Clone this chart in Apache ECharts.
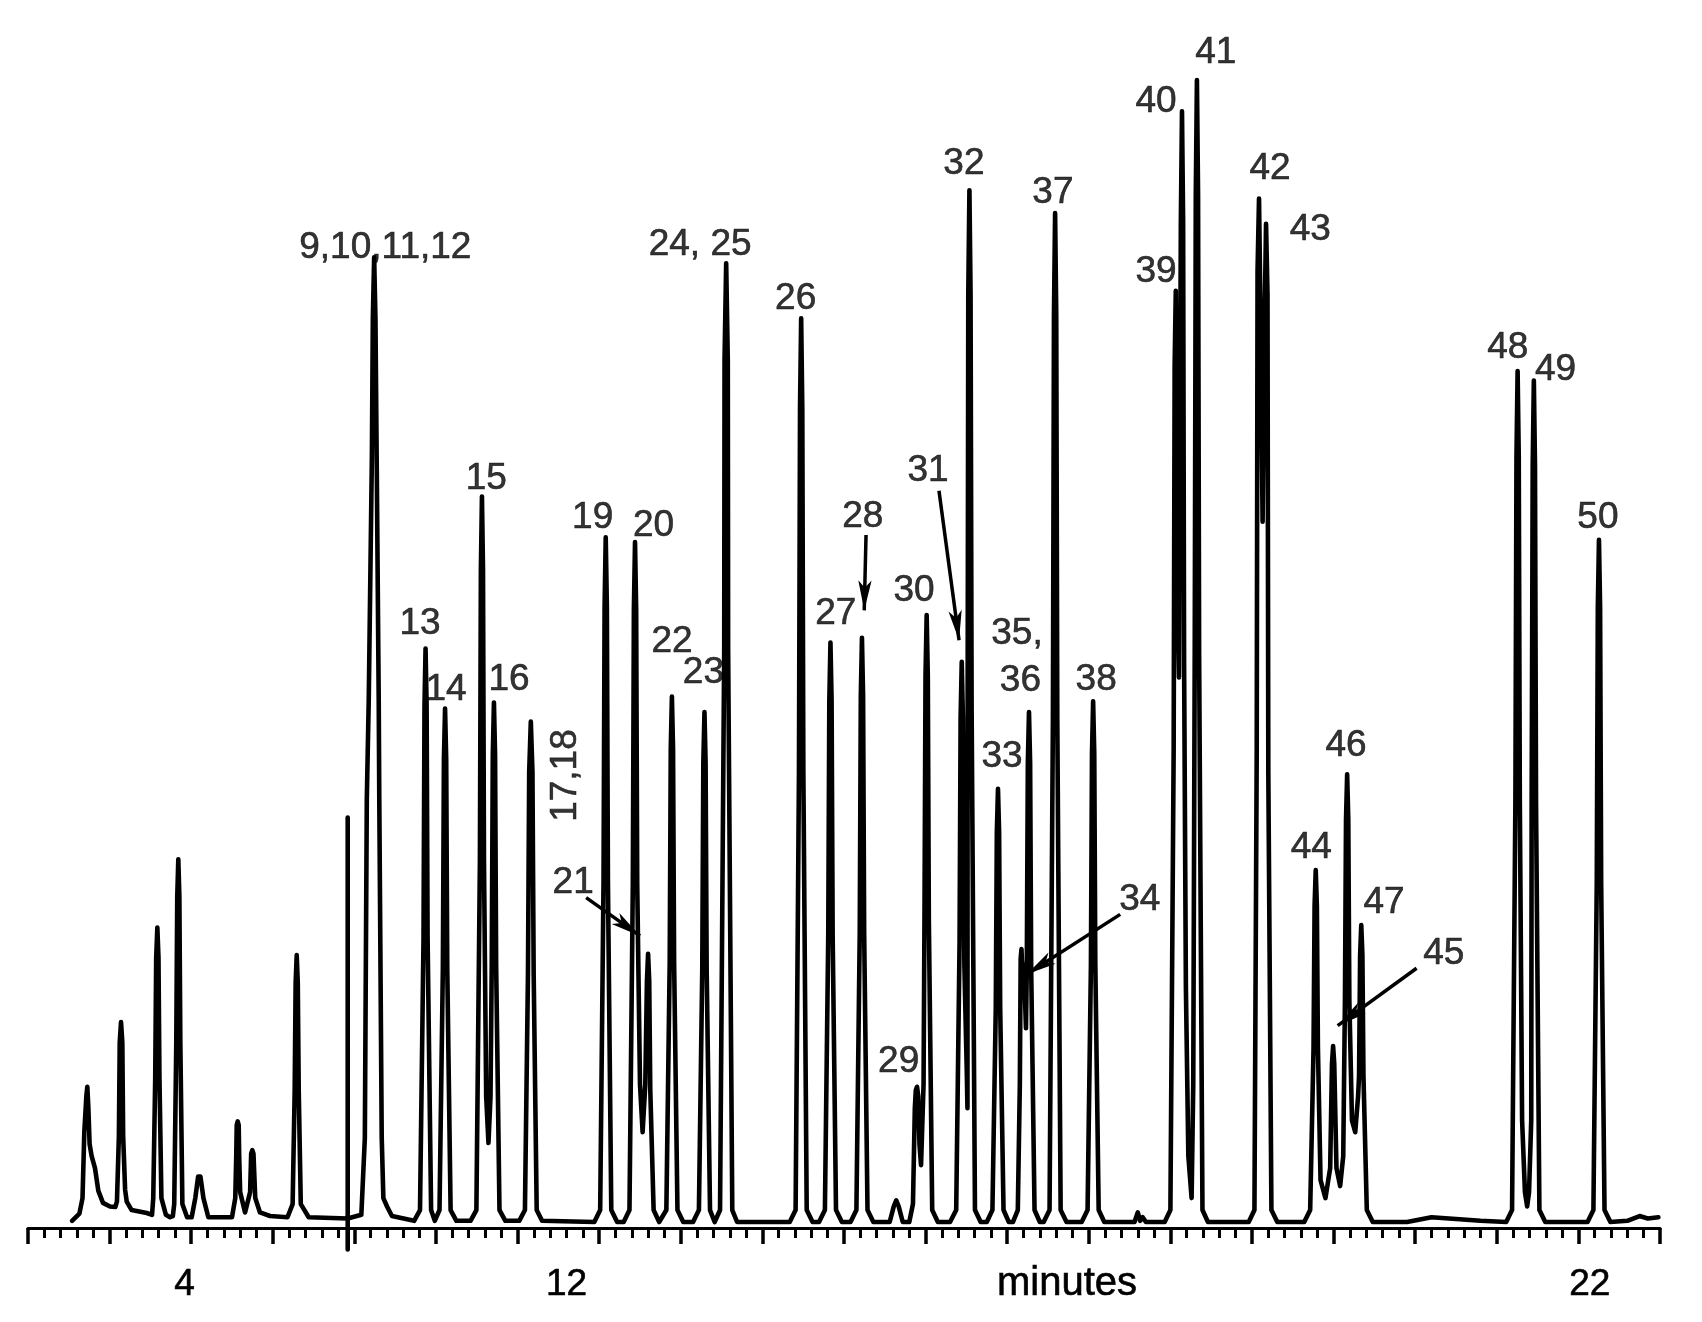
<!DOCTYPE html>
<html>
<head>
<meta charset="utf-8">
<script src="https://cdn.jsdelivr.net/npm/echarts@6/dist/echarts.min.js"></script>
<style>
html,body{margin:0;padding:0;background:#fff;}
#chart{width:1702px;height:1322px;}
</style>
</head>
<body>
<div id="chart"></div>
<script>
// Chromatogram trace: [time (axis units), detector signal]
const trace = [
  [0.54,0.6],[0.63,1.2],[0.668,2.5],[0.69,8.0],[0.715,11],[0.727,11.8],[0.74,10],[0.755,7.0],[0.78,6.0],[0.821,5.0],[0.862,3.1],[0.919,2.1],[1.005,1.8],[1.07,1.75],
  [1.09,2.2],[1.114,7.7],[1.124,15.5],[1.14,17.2],[1.156,15.5],[1.166,7.7],[1.19,3.2],[1.21,2.2],[1.27,1.5],[1.455,1.25],
  [1.52,1.1],[1.535,2.5],[1.559,12.5],[1.571,22.6],[1.585,25.1],[1.599,22.6],[1.611,12.5],[1.635,2.5],[1.69,1.1],[1.74,0.9],
  [1.775,1.0],[1.792,2.0],[1.817,15.4],[1.829,27.7],[1.842,30.8],[1.855,27.7],[1.867,15.4],[1.892,2.0],[1.95,0.9],
  [2.006,0.9],[2.05,2.5],[2.085,4.3],[2.099,4.4],[2.113,4.3],[2.15,2.5],[2.21,0.9],
  [2.50,0.9],[2.54,2.5],[2.552,6],[2.558,8.6],[2.57,8.9],[2.582,8.6],[2.588,6],[2.60,3.0],[2.66,1.3],
  [2.722,3.0],[2.735,6.2],[2.749,6.5],[2.763,6.2],[2.785,2.5],[2.843,1.3],[2.966,1.0],
  [3.18,0.9],[3.243,2.0],[3.268,11.4],[3.28,20.5],[3.293,22.8],[3.306,20.5],[3.318,11.4],[3.343,2.0],[3.44,0.9],
  [3.918,0.8],[3.918,34.3],[3.918,-1.8],[3.918,0.8],
  [4.085,1.1],[4.128,7.5],[4.152,35.8],[4.176,44.2],[4.214,64.3],[4.226,76],[4.242,81.1],[4.258,76],[4.273,64.3],[4.298,44.2],[4.305,35.8],[4.335,7.5],[4.355,2.5],[4.40,1.8],[4.46,1.0],
  [4.732,0.6],[4.804,1.5],[4.847,24.2],[4.859,43.6],[4.872,48.4],[4.885,43.6],[4.897,24.2],[4.94,1.5],[4.985,0.6],
  [4.995,0.6],[5.043,1.5],[5.084,21.7],[5.097,39.1],[5.111,43.4],[5.125,39.1],[5.138,21.7],[5.179,1.5],[5.25,0.6],
  [5.423,0.6],[5.495,1.5],[5.538,30.6],[5.55,55],[5.563,61.1],[5.576,55],[5.588,30.6],[5.615,11],[5.643,7.1],[5.668,11],[5.683,22],[5.696,39.5],[5.710,43.9],[5.724,39.5],[5.737,22],[5.778,1.5],[5.85,0.6],
  [6.02,0.6],[6.09,1.5],[6.127,21.2],[6.142,38.1],[6.162,42.3],[6.182,38.1],[6.197,21.2],[6.234,1.5],[6.30,0.6],
  [6.94,0.5],[7.012,1.5],[7.053,28.9],[7.066,51.9],[7.080,57.7],[7.094,51.9],[7.107,28.9],[7.148,1.5],[7.22,0.5],
  [7.30,0.5],[7.371,1.5],[7.412,28.7],[7.425,51.6],[7.439,57.3],[7.453,51.6],[7.466,28.7],[7.50,12],[7.532,8.0],[7.565,12],[7.585,20.6],[7.599,22.9],[7.613,20.6],[7.626,11.5],[7.667,1.5],[7.735,0.5],
  [7.751,0.5],[7.823,1.5],[7.864,22.2],[7.877,40],[7.891,44.4],[7.905,40],[7.918,22.2],[7.959,1.5],[8.03,0.5],
  [8.15,0.5],[8.222,1.5],[8.263,21.6],[8.276,38.8],[8.290,43.1],[8.304,38.8],[8.317,21.6],[8.358,1.5],[8.415,0.5],
  [8.42,0.5],[8.481,1.5],[8.532,48.4],[8.536,72.5],[8.556,80.6],[8.576,72.5],[8.580,48.4],[8.631,1.5],[8.69,0.5],
  [9.335,0.5],[9.407,1.5],[9.448,38],[9.461,68.4],[9.475,76.0],[9.489,68.4],[9.502,38],[9.543,1.5],[9.615,0.5],
  [9.694,0.5],[9.766,1.5],[9.807,24.5],[9.82,44],[9.834,48.9],[9.848,44],[9.861,24.5],[9.902,1.5],[9.974,0.5],
  [10.08,0.5],[10.152,1.5],[10.193,24.7],[10.206,44.4],[10.22,49.3],[10.234,44.4],[10.247,24.7],[10.288,1.5],[10.36,0.5],
  [10.56,0.5],[10.61,1.8],[10.64,2.3],[10.67,1.8],[10.72,0.5],
  [10.80,0.5],[10.845,2.0],[10.868,10],[10.88,11.5],[10.895,11.8],[10.91,11],[10.925,7],[10.944,5.25],[10.975,12],[10.986,25.6],[10.999,46.1],[11.013,51.2],[11.027,46.1],[11.04,25.6],[11.081,1.5],[11.15,0.5],
  [11.30,0.5],[11.375,1.5],[11.416,23.7],[11.429,42.6],[11.443,47.3],[11.457,42.6],[11.475,22],[11.505,13],[11.513,10.0],[11.515,43.4],[11.523,78],[11.537,86.7],[11.551,78],[11.564,43.4],[11.605,1.5],[11.675,0.5],
  [11.75,0.5],[11.819,1.5],[11.86,18.4],[11.873,33],[11.887,36.7],[11.901,33],[11.914,18.4],[11.955,1.5],[12.02,0.5],
  [12.07,0.5],[12.13,1.5],[12.155,12],[12.165,22.5],[12.175,23.3],[12.19,20.5],[12.205,22.0],[12.23,16.7],[12.24,21.6],[12.253,38.8],[12.267,43.1],[12.281,38.8],[12.294,21.6],[12.335,1.5],[12.40,0.5],
  [12.447,0.5],[12.519,1.5],[12.56,42.4],[12.573,76.3],[12.587,84.8],[12.601,76.3],[12.614,42.4],[12.655,1.5],[12.727,0.5],
  [12.913,0.5],[12.985,1.5],[13.026,22],[13.039,39.6],[13.053,44.0],[13.067,39.6],[13.08,22],[13.121,1.5],[13.19,0.5],
  [13.56,0.5],[13.60,1.3],[13.63,0.6],[13.66,0.9],[13.70,0.5],
  [13.93,0.5],[14.0,1.5],[14.04,40],[14.052,72],[14.066,78.3],[14.09,52],[14.105,46],[14.128,84],[14.142,93.3],[14.156,84],[14.168,47],[14.19,20],[14.22,6],[14.26,2.5],[14.28,12],[14.298,47.9],[14.311,86.3],[14.325,95.9],[14.339,86.3],[14.352,47.9],[14.393,1.5],[14.46,0.5],
  [14.96,0.5],[15.03,1.5],[15.058,40],[15.068,80],[15.086,86.0],[15.105,76],[15.13,59],[15.155,76],[15.172,83.9],[15.19,78],[15.2,38],[15.238,1.5],[15.31,0.5],
  [15.64,0.5],[15.713,1.5],[15.754,15],[15.767,26.9],[15.781,29.9],[15.795,26.9],[15.808,15],[15.84,4],[15.90,2.5],
  [15.958,5],[15.98,13.7],[15.994,15.2],[16.008,13.7],[16.035,5],[16.08,3.5],
  [16.118,6],[16.139,19],[16.152,34.1],[16.166,37.9],[16.18,34.1],[16.193,19],[16.225,9],[16.265,8],
  [16.30,11],[16.312,12.7],[16.325,22.8],[16.339,25.3],[16.353,22.8],[16.366,12.7],[16.407,1.5],[16.48,0.5],
  [16.9,0.5],[17.2,0.9],[17.8,0.6],
  [18.115,0.5],[18.187,1.5],[18.228,35.8],[18.241,64.4],[18.255,71.6],[18.269,64.4],[18.282,35.8],[18.31,9],[18.345,3],[18.372,1.8],[18.395,3],[18.422,9],[18.427,35.4],[18.44,63.7],[18.454,70.8],[18.468,63.7],[18.481,35.4],[18.522,1.5],[18.594,0.5],
  [19.112,0.5],[19.184,1.5],[19.225,28.8],[19.238,51.8],[19.252,57.5],[19.266,51.8],[19.279,28.8],[19.32,1.5],[19.392,0.5],
  [19.6,0.6],[19.75,1.0],[19.85,0.8],[19.98,0.9]
];

// Peak annotations
const peakNames = ['9,10,11,12','13','14','15','16','17,18','19','20','21','22','23','24, 25','26','27','28','29','30','31','32','33','34','35,','36','37','38','39','40','41','42','43','44','45','46','47','48','49','50'];
const labelX = [4.379,4.805,5.124,5.617,5.896,6.588,6.920,7.665,6.681,7.892,8.277,8.237,9.408,9.900,10.23,10.67,10.858,11.03,11.47,11.936,13.625,12.12,12.162,12.56,13.09,13.824,13.824,14.556,15.222,15.714,15.727,17.35,16.153,16.618,18.135,18.72,19.239];
const labelY = [81.9,50.5,45.0,62.6,45.8,37.8,59.3,58.7,28.8,49.0,46.4,82.1,77.6,51.3,59.4,13.85,53.2,63.3,88.9,39.4,27.4,49.6,45.7,86.5,45.8,79.9,94.1,98.2,88.5,83.4,31.8,22.9,40.3,27.2,73.5,71.7,59.3];
const verticalLabels = ['17,18'];

// Arrows: from label to peak
const arrowFrom = [[6.840,27.6],[10.27,57.9],[11.164,61.6],[13.385,26.2],[17.017,21.7]];
const arrowTo   = [[7.500,24.4],[10.248,51.6],[11.41,49.1],[12.24,21.2],[16.05,16.9]];

// X axis tick labels
const xTickValues = [1.918, 6.60, 19.14];
const xTickLabels = ['4', '12', '22'];
const xAxisTitle = 'minutes';

const FONT = "'Liberation Sans', Arial, Helvetica, sans-serif";

const chart = echarts.init(document.getElementById('chart'), null, {renderer:'canvas'});

const labelData = peakNames.map((n, i) => ({
  name: n,
  value: [labelX[i], labelY[i]],
  label: verticalLabels.includes(n) ? {rotate: 90} : {}
}));

const arrowData = arrowFrom.map((f, i) => [{coord: f}, {coord: arrowTo[i]}]);

chart.setOption({
  animation: false,
  backgroundColor: '#ffffff',
  grid: {left: 28, right: 42, top: 31, bottom: 94, containLabel: false, outerBoundsMode: 'none'},
  xAxis: {
    type: 'value', min: 0, max: 20, interval: 1,
    axisLine: {show: true, onZero: false, lineStyle: {color: '#000', width: 3.2}},
    axisTick: {show: true, inside: false, length: 16, lineStyle: {color: '#000', width: 3.5}},
    minorTick: {show: true, splitNumber: 5, length: 10, lineStyle: {color: '#000', width: 3}},
    splitLine: {show: false},
    minorSplitLine: {show: false},
    axisLabel: {
      customValues: xTickValues,
      formatter: function (v) {
        for (let i = 0; i < xTickValues.length; i++) {
          if (Math.abs(xTickValues[i] - v) < 1e-6) return xTickLabels[i];
        }
        return '';
      },
      color: '#000', fontSize: 37, fontFamily: FONT, margin: 38,
      textBorderColor: '#000', textBorderWidth: 0.6
    },
    name: xAxisTitle, nameLocation: 'middle', nameGap: 36, nameMoveOverlap: false,
    nameTextStyle: {color: '#000', fontSize: 40, fontFamily: FONT, padding: [0, 0, 0, 446], textBorderColor: '#000', textBorderWidth: 0.6}
  },
  yAxis: {type: 'value', min: 0, max: 100, show: false},
  series: [
    {
      type: 'line',
      data: trace,
      symbol: 'none',
      showSymbol: false,
      clip: false,
      smooth: false,
      lineStyle: {color: '#000', width: 4.6, join: 'round', cap: 'round'},
      silent: true,
      z: 3
    },
    {
      type: 'scatter',
      data: labelData,
      symbol: 'circle',
      symbolSize: 1,
      itemStyle: {color: 'rgba(0,0,0,0)'},
      label: {show: true, position: 'inside', formatter: '{b}', color: '#000', fontSize: 37, fontFamily: FONT,
              textBorderColor: '#000', textBorderWidth: 0.6},
      silent: true,
      z: 4,
      markLine: {
        silent: true,
        symbol: ['none', 'arrow'],
        symbolSize: [10, 30],
        label: {show: false},
        lineStyle: {color: '#000', width: 3.5, type: 'solid'},
        emphasis: {disabled: true},
        data: arrowData
      }
    }
  ]
});
</script>
</body>
</html>
